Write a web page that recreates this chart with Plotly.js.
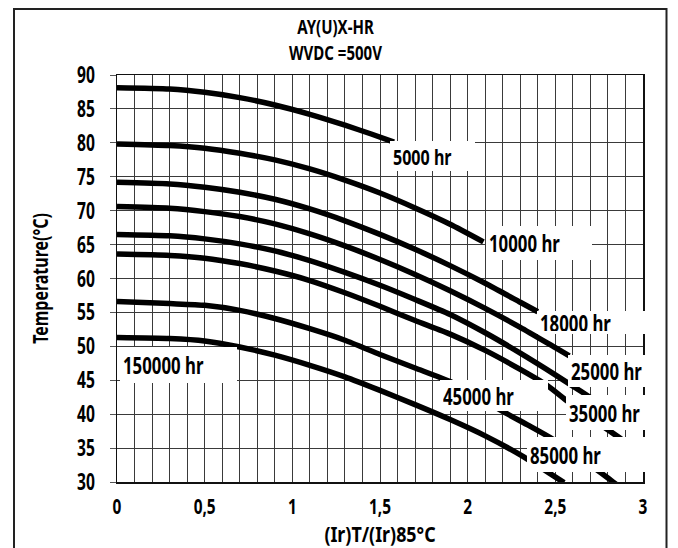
<!DOCTYPE html>
<html>
<head>
<meta charset="utf-8">
<script src="https://cdn.plot.ly/plotly-3.0.1.min.js"></script>
<style>
html,body{margin:0;padding:0;background:#fff;}
#chart{width:678px;height:548px;}
</style>
</head>
<body>
<div id="chart"></div>
<script>
// ---- data ----
const seriesNames = ["5000 hr","10000 hr","18000 hr","25000 hr","35000 hr","45000 hr","85000 hr","150000 hr"];

const x5000  = [0,0.3,0.5,0.7,0.9,1.1,1.3,1.45,1.58];
const y5000  = [88.13,87.94,87.45,86.66,85.58,84.2,82.6,81.3,80.1];

const x10000 = [0,0.3,0.5,0.7,0.9,1.1,1.3,1.5,1.7,1.9,2.09];
const y10000 = [79.83,79.59,79.2,78.46,77.48,76.15,74.5,72.6,70.4,68.0,65.4];

const x18000 = [0,0.3,0.5,0.7,0.9,1.1,1.3,1.5,1.7,1.9,2.1,2.3,2.4];
const y18000 = [74.18,73.94,73.45,72.71,71.68,70.25,68.5,66.5,64.3,61.9,59.3,56.5,55.1];

const x25000 = [0,0.3,0.5,0.7,0.9,1.1,1.3,1.5,1.7,1.9,2.1,2.3,2.5,2.58];
const y25000 = [70.6,70.35,69.86,69.13,68.05,66.57,64.8,62.8,60.6,58.2,55.6,52.8,49.8,48.6];

const x35000 = [0,0.3,0.5,0.7,0.9,1.1,1.3,1.5,1.7,1.9,2.1,2.3,2.5,2.65,2.75];
const y35000 = [66.5,66.3,65.84,65.1,64.07,62.64,60.9,59.0,56.9,54.7,52.0,49.0,45.8,43.3,41.6];

const x45000 = [0,0.3,0.5,0.7,0.9,1.1,1.3,1.5,1.7,1.9,2.1,2.3,2.45,2.57,2.7,2.85,2.95];
const y45000 = [63.6,63.4,63.0,62.2,61.1,59.7,57.9,55.9,53.8,51.8,49.4,46.6,44.3,41.9,39.5,36.8,34.9];

const x85000 = [0,0.3,0.5,0.7,0.9,1.1,1.3,1.5,1.7,1.9,2.05,2.2,2.35,2.48,2.65,2.8,2.86];
const y85000 = [56.6,56.3,56.05,55.3,54.1,52.6,50.9,48.8,46.8,44.8,42.7,40.4,38.3,36.4,33.4,30.6,29.4];

const x150000 = [0,0.3,0.5,0.7,0.9,1.1,1.3,1.5,1.7,1.9,2.1,2.32,2.49,2.55];
const y150000 = [51.3,51.15,50.8,49.9,48.7,47.2,45.5,43.5,41.4,39.2,36.8,33.7,30.9,29.9];

const xTickVals = [0,0.5,1,1.5,2,2.5,3];
const yTickVals = [30,35,40,45,50,55,60,65,70,75,80,85,90];
const titleLines = ['AY(U)X-HR','WVDC =500V'];

// ---- styling / layout ----
const FONT = "Noto Sans, DejaVu Sans, sans-serif";
const xs = [x5000,x10000,x18000,x25000,x35000,x45000,x85000,x150000];
const ys = [y5000,y10000,y18000,y25000,y35000,y45000,y85000,y150000];

const traces = seriesNames.map((n,i)=>({
  type:'scatter', mode:'lines', name:n, x:xs[i], y:ys[i],
  line:{color:'#000', width:5.5, shape:'spline', smoothing:0.6},
  hoverinfo:'skip', showlegend:false
}));

const W=678, H=548, ML=117, MR=35, MT=75, MB=66;
const pw = W-ML-MR, ph = H-MT-MB;
const px2paperX = p => (p-ML)/pw;
const px2paperY = p => (H-MB-p)/ph;

// label boxes: [center x, center y, box width px, box height px, font size]
const labelBoxes = [
  [1.800, 78.05,  85, 30, 22],
  [2.409, 65.21, 106, 34, 23],
  [2.720, 53.48, 113, 23, 23],
  [2.823, 46.33,  87, 32, 23],
  [2.817, 40.21,  89, 35, 23],
  [2.150, 42.71, 108, 31, 23],
  [2.710, 34.01, 130, 35, 23],
  [0.352, 47.24, 117, 36, 23]
];
const PAD = 3;
const annotations = seriesNames.map((n,i)=>{
  const b = labelBoxes[i];
  return {
    text:n, x:b[0], y:b[1], xref:'x', yref:'y',
    xanchor:'center', yanchor:'middle', showarrow:false,
    width:b[2]-2*PAD, height:b[3]-2*PAD, borderpad:PAD, borderwidth:0,
    bgcolor:'#ffffff', align:'left', valign:'middle',
    font:{family:FONT, size:b[4], color:'#000', weight:700}
  };
});

const layout = {
  width:W, height:H,
  margin:{l:ML, r:MR, t:MT, b:MB, pad:0},
  paper_bgcolor:'#fff', plot_bgcolor:'#fff',
  separators:', ',
  font:{family:FONT, color:'#000'},
  title:{
    text:titleLines.join('<br>'),
    font:{family:FONT, size:20, color:'#000', weight:700},
    x:335.5/W, xref:'container', xanchor:'center',
    y:1-33.5/H, yref:'container', yanchor:'middle'
  },
  xaxis:{
    range:[0,3], tickvals:xTickVals, tickformat:'.1~f',
    ticks:'', showline:true, mirror:true, linecolor:'#111', linewidth:1.5,
    showgrid:true, gridcolor:'#3a3a3a', gridwidth:1,
    minor:{dtick:0.1, showgrid:true, gridcolor:'#3a3a3a', gridwidth:1},
    zeroline:false,
    tickfont:{family:FONT, size:22, color:'#000', weight:700},
    ticklabelstandoff:4,
    title:{text:'(Ir)T/(Ir)85°C', standoff:0, font:{family:FONT, size:21, color:'#000', weight:700}},
    automargin:false, fixedrange:true
  },
  yaxis:{
    range:[30,90], tickvals:yTickVals,
    ticks:'outside', ticklen:6, tickcolor:'#555', tickwidth:1,
    showline:true, mirror:true, linecolor:'#111', linewidth:1.5,
    showgrid:true, gridcolor:'#3a3a3a', gridwidth:1,
    zeroline:false,
    tickfont:{family:FONT, size:23, color:'#000', weight:700},
    ticklabelstandoff:10,
    title:{text:'Temperature(°C)', standoff:14, font:{family:FONT, size:21, color:'#000', weight:700}},
    automargin:false, fixedrange:true
  },
  annotations:annotations,
  shapes:[{
    type:'rect', xref:'paper', yref:'paper', layer:'above',
    x0:px2paperX(14), x1:px2paperX(666.5), y0:px2paperY(565), y1:px2paperY(9),
    line:{color:'#222', width:2}, fillcolor:'rgba(0,0,0,0)'
  }],
  showlegend:false
};

// narrow (condensed) look of the reference lettering
const condense = [
  ['.xtick text', 0.70], ['.ytick text', 0.68],
  ['.annotation-text', 0.73], ['.gtitle', 0.75],
  ['.ytitle', 0.76], ['.xtitle', 0.85]
];

Plotly.newPlot('chart', traces, layout, {staticPlot:true, displayModeBar:false}).then(gd=>{
  condense.forEach(([sel,f])=>{
    gd.querySelectorAll(sel).forEach(t=>{
      const lines = t.querySelectorAll('tspan.line');
      const targets = lines.length ? Array.from(lines) : [t];
      targets.forEach(el=>{
        const L = el.getComputedTextLength();
        if(L>0){
          el.setAttribute('textLength', (L*f).toFixed(2));
          el.setAttribute('lengthAdjust','spacingAndGlyphs');
        }
      });
    });
  });
});
</script>
</body>
</html>
